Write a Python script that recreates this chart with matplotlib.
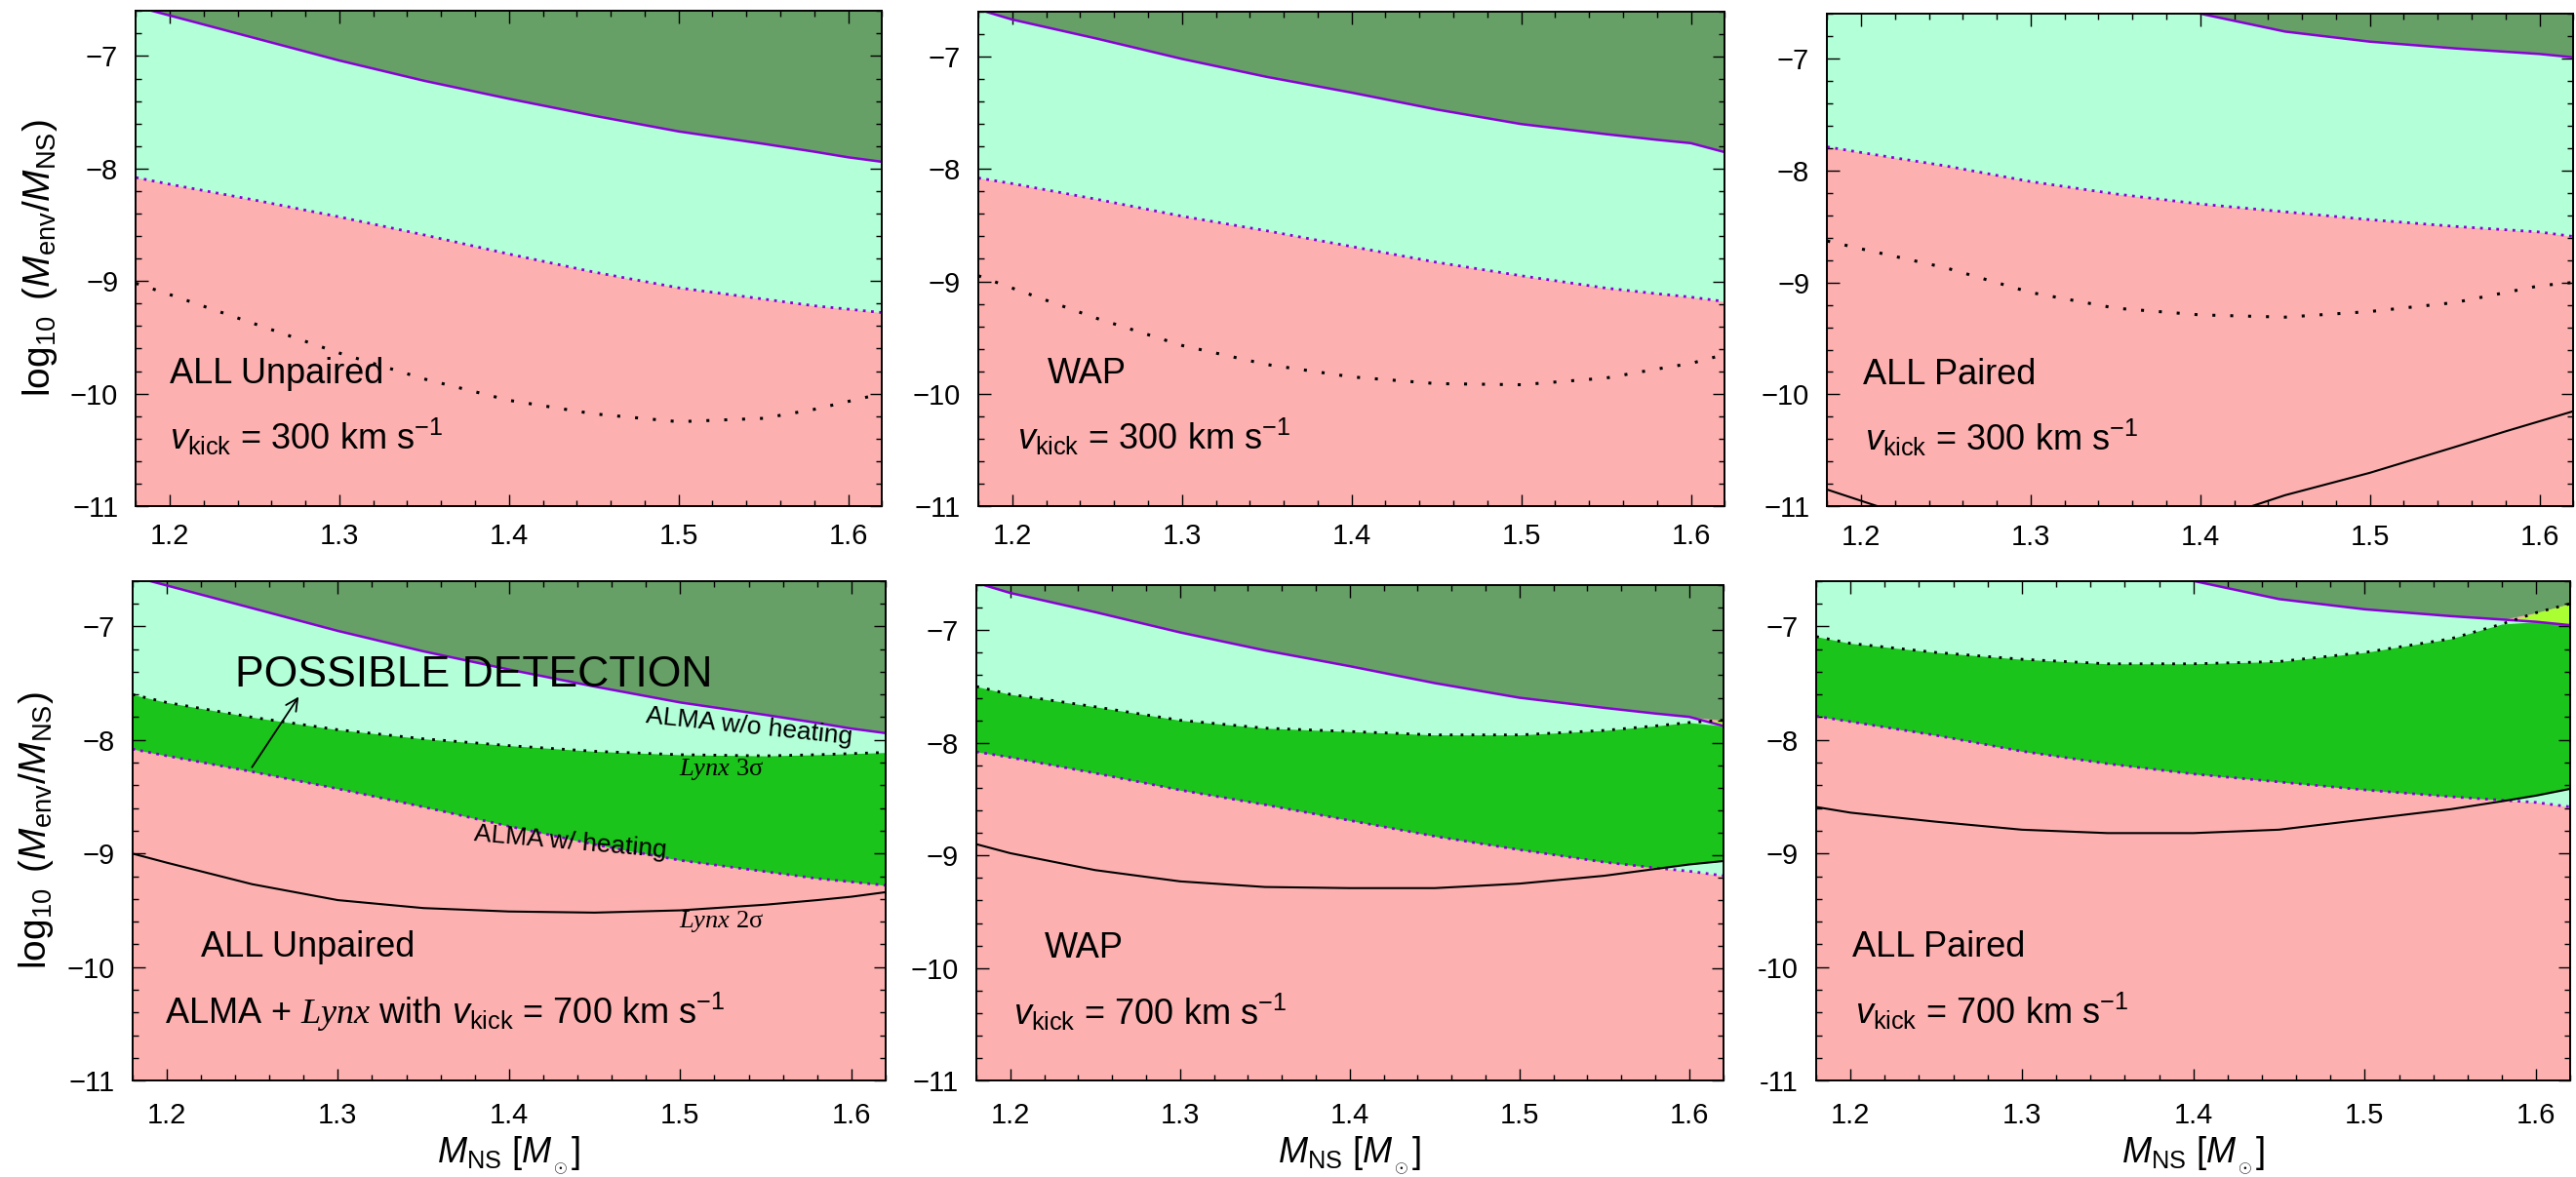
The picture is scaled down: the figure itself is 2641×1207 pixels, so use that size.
import numpy as np
import matplotlib
matplotlib.use("Agg")
import matplotlib.pyplot as plt
from matplotlib.ticker import MultipleLocator

plt.rcParams["font.family"] = ["Liberation Sans", "DejaVu Sans"]
plt.rcParams["mathtext.fontset"] = "custom"
plt.rcParams["mathtext.rm"] = "Liberation Sans"
plt.rcParams["mathtext.it"] = "Liberation Sans:italic"
plt.rcParams["mathtext.bf"] = "Liberation Sans:bold"
plt.rcParams["mathtext.sf"] = "Liberation Serif:italic"

# neutron star mass grid [M_sun]
m_ns = np.array([1.18, 1.20, 1.25, 1.30, 1.35, 1.40, 1.45, 1.50, 1.55, 1.58, 1.60, 1.62])
nan = np.nan

# ALMA limits on log10(M_env/M_NS): without heating (solid) and with heating (dotted)
alma_noheat_unpaired = [-6.56, -6.64, -6.84, -7.04, -7.22, -7.38, -7.53, -7.67, -7.78, -7.85, -7.90, -7.94]
alma_heat_unpaired = [-8.08, -8.14, -8.28, -8.43, -8.59, -8.76, -8.92, -9.06, -9.16, -9.22, -9.25, -9.28]
alma_noheat_wap = [-6.58, -6.67, -6.84, -7.02, -7.18, -7.32, -7.47, -7.60, -7.69, -7.74, -7.77, -7.85]
alma_heat_wap = [-8.08, -8.13, -8.27, -8.42, -8.55, -8.69, -8.83, -8.95, -9.06, -9.11, -9.14, -9.18]
alma_noheat_paired = [nan, nan, nan, nan, nan, -6.60, -6.76, -6.85, -6.91, -6.94, -6.96, -6.99]
alma_heat_paired = [-7.79, -7.84, -7.96, -8.10, -8.21, -8.30, -8.37, -8.44, -8.50, -8.53, -8.55, -8.59]

# Lynx 3 sigma / 2 sigma limits, v_kick = 300 km/s
lynx3_unpaired_300 = [-9.02, -9.12, -9.38, -9.64, -9.87, -10.06, -10.18, -10.25, -10.22, -10.14, -10.07, -10.00]
lynx3_wap_300 = [-8.95, -9.06, -9.33, -9.57, -9.74, -9.85, -9.91, -9.92, -9.86, -9.78, -9.73, -9.65]
lynx3_paired_300 = [-8.63, -8.70, -8.87, -9.09, -9.23, -9.29, -9.31, -9.26, -9.18, -9.09, -9.03, -9.00]
lynx2_paired_300 = [-10.85, -10.95, -11.20, nan, nan, -11.15, -10.90, -10.70, -10.47, -10.33, -10.24, -10.15]

# Lynx 3 sigma / 2 sigma limits, v_kick = 700 km/s
lynx3_unpaired_700 = [-7.60, -7.67, -7.80, -7.91, -7.99, -8.05, -8.10, -8.13, -8.14, -8.13, -8.12, -8.11]
lynx2_unpaired_700 = [-9.00, -9.08, -9.27, -9.41, -9.48, -9.51, -9.52, -9.50, -9.45, -9.41, -9.38, -9.34]
lynx3_wap_700 = [-7.50, -7.57, -7.68, -7.80, -7.87, -7.90, -7.93, -7.93, -7.89, -7.85, -7.82, -7.80]
lynx2_wap_700 = [-8.90, -8.98, -9.13, -9.23, -9.28, -9.29, -9.29, -9.25, -9.18, -9.12, -9.08, -9.05]
lynx3_paired_700 = [-7.09, -7.15, -7.23, -7.29, -7.33, -7.33, -7.31, -7.23, -7.11, -6.98, -6.88, -6.80]
lynx2_paired_700 = [-8.59, -8.64, -8.72, -8.79, -8.82, -8.82, -8.79, -8.70, -8.61, -8.54, -8.49, -8.43]

eos_names = ["ALL Unpaired", "WAP", "ALL Paired"]
x_ticks = [1.2, 1.3, 1.4, 1.5, 1.6]
y_ticks = [-11, -10, -9, -8, -7]
y_ticklabels_paired_700 = ["-11", "-10", "\u22129", "\u22128", "\u22127"]

PINK = "#fdb0b0"
MINT = "#b2ffd8"
DARK = "#66a066"
GREEN = "#1ac41a"
LIME = "#aaff33"
PURPLE = "#8a00d6"

XMIN, XMAX = 1.18, 1.62
YMIN, YMAX = -11.0, -6.6

W, H = 2641, 1207
fig = plt.figure(figsize=(W / 100, H / 100), dpi=100)

# panel boxes in pixels: left, top, right, bottom
boxes = [(139.3, 11.3, 904.3, 519.0), (1003.0, 12.0, 1768.3, 519.0), (1873.3, 14.0, 2638.3, 519.3),
         (135.7, 595.7, 908.0, 1108.3), (1001.0, 600.0, 1766.7, 1108.3), (1862.0, 595.7, 2635.3, 1108.3)]

panels = [
    (alma_noheat_unpaired, alma_heat_unpaired, lynx3_unpaired_300, None, 300),
    (alma_noheat_wap, alma_heat_wap, lynx3_wap_300, None, 300),
    (alma_noheat_paired, alma_heat_paired, lynx3_paired_300, lynx2_paired_300, 300),
    (alma_noheat_unpaired, alma_heat_unpaired, lynx3_unpaired_700, lynx2_unpaired_700, 700),
    (alma_noheat_wap, alma_heat_wap, lynx3_wap_700, lynx2_wap_700, 700),
    (alma_noheat_paired, alma_heat_paired, lynx3_paired_700, lynx2_paired_700, 700),
]
name_x = [1.200, 1.221, 1.201, 1.220, 1.220, 1.201]
vkick_x = [1.200, 1.203, 1.202, 1.199, 1.202, 1.203]

axes = []
for i, (box, (noheat, heat, lynx3, lynx2, vk)) in enumerate(zip(boxes, panels)):
    l, t, r, b = box
    ax = fig.add_axes([l / W, 1 - b / H, (r - l) / W, (b - t) / H])
    axes.append(ax)
    x = m_ns
    noheat = np.array(noheat, float)
    heat = np.array(heat, float)
    lynx3 = np.array(lynx3, float)
    up = np.where(np.isnan(noheat), YMAX, noheat)

    # regions: pink background, ALMA band, Lynx band, excluded, both
    ax.set_facecolor(PINK)
    ax.fill_between(x, heat, up, color=MINT, lw=0)
    lo = heat if lynx2 is None else np.fmax(heat, np.array(lynx2, float))
    hi = np.minimum(lynx3, up)
    ax.fill_between(x, lo, hi, where=hi > lo, interpolate=True, color=GREEN, lw=0)
    ax.fill_between(x, np.maximum(up, lynx3), YMAX + 0.5, color=DARK, lw=0)
    ax.fill_between(x, up, lynx3, where=lynx3 > up, interpolate=True, color=LIME, lw=0)

    ax.plot(x, noheat, color=PURPLE, lw=1.8)
    ax.plot(x, heat, color=PURPLE, lw=2.0, ls=(0, (1, 2)))
    if vk == 300:
        ax.plot(x, lynx3, color="k", lw=2.2, ls=(0, (1, 5)))
    else:
        ax.plot(x, lynx3, color="k", lw=2.0, ls=(0, (1, 3)))
    if lynx2 is not None:
        ax.plot(x, lynx2, color="k", lw=1.5)

    ax.set_xlim(XMIN, XMAX)
    ax.set_ylim(YMIN, YMAX)
    ax.set_xticks(x_ticks)
    ax.set_yticks(y_ticks)
    if i == 5:
        ax.set_yticklabels(y_ticklabels_paired_700)
    ax.xaxis.set_minor_locator(MultipleLocator(0.02))
    ax.yaxis.set_minor_locator(MultipleLocator(0.2))
    ax.tick_params(which="both", direction="in", top=True, right=True, width=1.0, labelsize=21)
    ax.tick_params(which="major", length=9)
    ax.tick_params(which="minor", length=4.5)
    ax.tick_params(axis="y", pad=13)
    ax.tick_params(axis="x", pad=12.5 if i < 3 else 15.5)
    for sp in ax.spines.values():
        sp.set_linewidth(1.4)

    ax.text(name_x[i], -9.91, eos_names[i % 3], fontsize=26, va="baseline")
    if i == 3:
        ax.text(vkick_x[i], -10.50, r"ALMA + $\mathsf{Lynx}$ with $v_{\rm kick}$ = 700 km s$^{-1}$",
                fontsize=26, va="baseline")
    else:
        ax.text(vkick_x[i], -10.50, r"$v_{\rm kick}$ = %d km s$^{-1}$" % vk, fontsize=26, va="baseline")

    if i % 3 == 0:
        ax.set_ylabel(r"$\log_{10}$ ($M_{\rm env}$/$M_{\rm NS}$)", fontsize=28, labelpad=8)
    if i >= 3:
        ax.set_xlabel(r"$M_{\rm NS}$ [$M_{_\odot}$]", fontsize=26, labelpad=4)

# labels of the detection regions
ax = axes[3]
ax.text(1.240, -7.53, "POSSIBLE DETECTION", fontsize=32, va="baseline")
ax.annotate("", xy=(1.278, -7.60), xytext=(1.249, -8.26),
            arrowprops=dict(arrowstyle="->", lw=1.3, color="k", mutation_scale=22))
ax.text(1.540, -7.88, "ALMA w/o heating", fontsize=19, rotation=-6,
        ha="center", va="center", rotation_mode="anchor")
ax.text(1.436, -8.90, "ALMA w/ heating", fontsize=19, rotation=-5,
        ha="center", va="center", rotation_mode="anchor")
ax.text(1.499, -8.31, "$\\mathsf{Lynx}$ 3\u03c3", fontsize=19,
        va="baseline", family="Liberation Serif")
ax.text(1.499, -9.65, "$\\mathsf{Lynx}$ 2\u03c3", fontsize=19,
        va="baseline", family="Liberation Serif")

fig.savefig("out.png", dpi=100)
